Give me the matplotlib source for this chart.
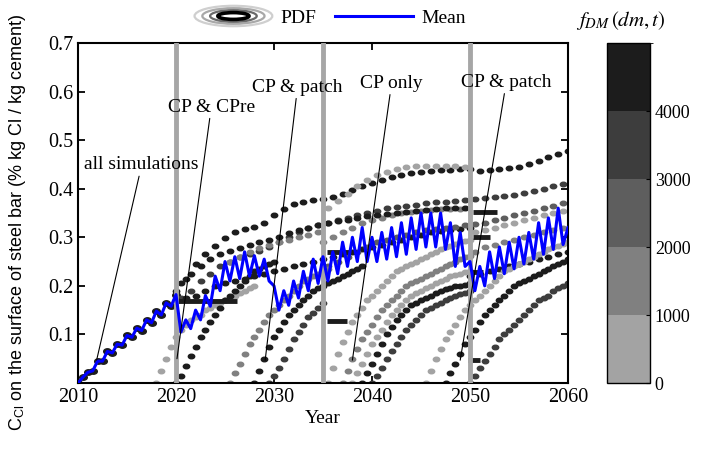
import numpy as np
import matplotlib
matplotlib.use('Agg')
import matplotlib.pyplot as plt
from matplotlib.colors import ListedColormap, BoundaryNorm
from matplotlib.cm import ScalarMappable
from matplotlib.patches import Ellipse, Patch
from matplotlib.legend_handler import HandlerBase
from matplotlib.path import Path
from matplotlib.transforms import Affine2D

plt.rcParams['font.family'] = ['Liberation Serif', 'DejaVu Serif']
plt.rcParams['mathtext.fontset'] = 'stix'

# mean chloride content, every half year from 2010 to 2060
mean_cl = [0.000, 0.012, 0.022, 0.025, 0.045, 0.045, 0.065, 0.062, 0.080, 0.078,
           0.098, 0.094, 0.113, 0.108, 0.130, 0.124, 0.148, 0.140, 0.165, 0.158,
           0.182, 0.105, 0.130, 0.112, 0.150, 0.130, 0.180, 0.158, 0.220, 0.190,
           0.250, 0.210, 0.260, 0.215, 0.270, 0.220, 0.262, 0.220, 0.255, 0.210,
           0.200, 0.150, 0.190, 0.160, 0.210, 0.175, 0.230, 0.190, 0.255, 0.205,
           0.260, 0.210, 0.270, 0.225, 0.290, 0.240, 0.300, 0.250, 0.320, 0.250,
           0.300, 0.250, 0.310, 0.255, 0.320, 0.260, 0.330, 0.265, 0.340, 0.275,
           0.350, 0.280, 0.350, 0.280, 0.350, 0.275, 0.330, 0.240, 0.310, 0.240,
           0.250, 0.190, 0.240, 0.200, 0.270, 0.215, 0.280, 0.225, 0.290, 0.235,
           0.300, 0.245, 0.310, 0.255, 0.330, 0.265, 0.340, 0.275, 0.360, 0.285,
           0.320]

# simulation traces: (start year, step in years, f_DM, values)
c1 = [0.19, 0.215, 0.245, 0.265, 0.283, 0.298, 0.31, 0.317, 0.322, 0.33, 0.345,
      0.358, 0.368, 0.373, 0.376, 0.378, 0.383, 0.39, 0.398, 0.405, 0.412, 0.418,
      0.424, 0.428, 0.432, 0.435, 0.437, 0.438, 0.439, 0.44, 0.44, 0.437, 0.438,
      0.44, 0.442, 0.445, 0.45, 0.457, 0.465, 0.472, 0.478]
c2 = [0.36, 0.375, 0.39, 0.405, 0.418, 0.428, 0.435, 0.44, 0.444, 0.446, 0.447,
      0.447, 0.447, 0.446, 0.445]
c3 = [0.175, 0.19, 0.21, 0.225, 0.24, 0.25, 0.26, 0.265, 0.272, 0.28, 0.29, 0.30,
      0.31, 0.32, 0.325, 0.33, 0.335, 0.34, 0.345, 0.35, 0.355, 0.36, 0.362, 0.365,
      0.367, 0.37, 0.372, 0.373, 0.375, 0.377, 0.378, 0.38, 0.382, 0.385, 0.388,
      0.392, 0.396, 0.40, 0.405, 0.41]
c4 = [0.17, 0.175, 0.18, 0.19, 0.20, 0.205, 0.21, 0.215, 0.22, 0.225, 0.23, 0.235,
      0.24, 0.245, 0.25, 0.255, 0.26, 0.265, 0.27, 0.275, 0.28, 0.285, 0.29, 0.295,
      0.30, 0.305, 0.31, 0.312, 0.315, 0.318, 0.32]
c5 = [0.29, 0.30, 0.31, 0.32, 0.33, 0.335, 0.34, 0.345, 0.35, 0.352, 0.355, 0.357,
      0.358, 0.358, 0.358]
c6 = [0.24, 0.25, 0.26, 0.27, 0.28, 0.29, 0.295, 0.30, 0.305, 0.31, 0.315, 0.318,
      0.32, 0.322, 0.325, 0.327, 0.33, 0.335, 0.34, 0.345, 0.35, 0.355, 0.36, 0.365,
      0.37, 0.375]
c7 = [0.27, 0.28, 0.285, 0.29, 0.295, 0.30, 0.305, 0.31, 0.315, 0.32]
c8 = [0.22, 0.225, 0.23, 0.235, 0.24, 0.245, 0.25, 0.255, 0.26, 0.265, 0.27]
c9 = [0.25, 0.26, 0.27, 0.278, 0.285, 0.29, 0.295, 0.30, 0.305, 0.31]
c10 = [0.205, 0.225, 0.24, 0.255, 0.265, 0.272, 0.278, 0.285, 0.29, 0.295, 0.30,
       0.308, 0.315, 0.32, 0.325, 0.33, 0.333, 0.336, 0.34, 0.343, 0.345, 0.347,
       0.35, 0.352, 0.354, 0.356, 0.358, 0.36, 0.36, 0.36]
c11 = [0.31, 0.315, 0.32, 0.325, 0.33, 0.335, 0.34, 0.345, 0.35, 0.355]

r2a = [0.0, 0.025, 0.05, 0.075, 0.095, 0.11, 0.12, 0.13, 0.135, 0.14, 0.15, 0.155,
       0.16, 0.165, 0.17, 0.175, 0.18, 0.185, 0.19, 0.195, 0.2]
r2b = [0.0, 0.015, 0.035, 0.055, 0.075, 0.095, 0.11, 0.125, 0.14, 0.155, 0.17, 0.18,
       0.19, 0.2, 0.21, 0.22, 0.23, 0.235, 0.24, 0.245, 0.25]
r2c = [0.0, 0.02, 0.04, 0.06, 0.08, 0.095, 0.11, 0.125, 0.14, 0.15, 0.16, 0.17, 0.18,
       0.19, 0.2, 0.21, 0.215, 0.22, 0.225, 0.23, 0.235]
r2d = [0.0, 0.025, 0.05, 0.075, 0.095, 0.11, 0.125, 0.14, 0.15, 0.16, 0.17, 0.18,
       0.19, 0.195, 0.2, 0.205, 0.21, 0.215, 0.22, 0.225, 0.23, 0.235, 0.24]
r2e = [0.0, 0.015, 0.03, 0.05, 0.07, 0.09, 0.105, 0.12, 0.135, 0.145, 0.155, 0.165]

r3a = [0.0, 0.03, 0.06, 0.085, 0.105, 0.125, 0.14, 0.155, 0.17, 0.18, 0.19, 0.2,
       0.21, 0.22, 0.23, 0.235, 0.24, 0.245, 0.25, 0.255, 0.26, 0.265, 0.27, 0.275,
       0.28, 0.283, 0.286, 0.29, 0.293, 0.295]
r3b = [0.0, 0.025, 0.05, 0.07, 0.09, 0.105, 0.12, 0.135, 0.15, 0.16, 0.17, 0.18,
       0.19, 0.2, 0.205, 0.21, 0.215, 0.22, 0.225, 0.23, 0.235, 0.24, 0.245, 0.25,
       0.255, 0.26, 0.262]
r3c = [0.0, 0.02, 0.04, 0.06, 0.08, 0.095, 0.11, 0.125, 0.14, 0.15, 0.16, 0.17,
       0.18, 0.185, 0.19, 0.195, 0.2, 0.205, 0.21, 0.215, 0.22, 0.222, 0.225, 0.228,
       0.23]
r3d = [0.0, 0.02, 0.04, 0.06, 0.08, 0.1, 0.115, 0.13, 0.14, 0.15, 0.16, 0.165, 0.17,
       0.175, 0.18, 0.185, 0.19, 0.193, 0.196, 0.2, 0.2, 0.202, 0.205]
r3e = [0.0, 0.015, 0.03, 0.05, 0.065, 0.08, 0.095, 0.11, 0.12, 0.13, 0.14, 0.15,
       0.155, 0.16, 0.165, 0.17, 0.175, 0.18, 0.183, 0.186, 0.19]

r4a = [0.0, 0.025, 0.05, 0.07, 0.09, 0.105, 0.12, 0.135, 0.15, 0.16, 0.17, 0.18,
       0.19, 0.2, 0.21, 0.22, 0.23, 0.235, 0.24, 0.245, 0.25, 0.255, 0.26, 0.265,
       0.27, 0.275, 0.28, 0.283, 0.286, 0.29]
r4b = [0.0, 0.02, 0.04, 0.06, 0.08, 0.095, 0.11, 0.125, 0.14, 0.15, 0.16, 0.17,
       0.18, 0.19, 0.2, 0.205, 0.21, 0.215, 0.22, 0.225, 0.23, 0.235, 0.24, 0.245,
       0.25, 0.255]
r4c = [0.0, 0.015, 0.03, 0.045, 0.06, 0.075, 0.09, 0.1, 0.11, 0.12, 0.13, 0.14,
       0.15, 0.16, 0.17, 0.175, 0.18, 0.19, 0.195, 0.2, 0.205]

traces = [
    (2020.0, 1.0, 4500, c1), (2035.5, 1.0, 500, c2), (2020.5, 1.0, 3500, c3),
    (2020.0, 1.0, 4500, c4), (2035.0, 1.0, 1500, c5), (2035.5, 1.0, 2500, c6),
    (2050.5, 1.0, 1500, c7), (2050.0, 1.0, 4500, c8), (2025.5, 1.0, 1500, c9),
    (2020.5, 1.0, 4500, c10), (2050.5, 1.0, 500, c11),
    (2018.0, 0.5, 500, r2a), (2020.0, 0.5, 4500, r2b), (2025.5, 0.5, 1500, r2c),
    (2028.0, 0.5, 4500, r2d), (2029.5, 0.5, 3500, r2e),
    (2035.5, 0.5, 500, r3a), (2037.0, 0.5, 1500, r3b), (2038.0, 0.5, 500, r3c),
    (2039.0, 0.5, 4500, r3d), (2040.0, 0.5, 3500, r3e),
    (2045.5, 0.5, 500, r4a), (2047.5, 0.5, 4500, r4b), (2050.0, 0.5, 3500, r4c),
]

# cathodic protection: chloride held constant
cp_level = [0.168, 0.27, 0.127, 0.352, 0.30, 0.228, 0.048]
cp_start = [2020.2, 2035.4, 2035.4, 2050.3, 2050.3, 2050.2, 2049.8]
cp_end = [2026.2, 2038.5, 2037.4, 2052.8, 2052.0, 2051.3, 2051.0]

repair_years = [2020, 2035, 2050]

labels = ['all simulations', 'CP & CPre', 'CP & patch', 'CP only', 'CP & patch']
label_xy = [(2011.9, 0.047), (2020.1, 0.05), (2029.1, 0.047), (2038.0, 0.047), (2049.0, 0.047)]
label_text = [(2016.5, 0.449), (2023.6, 0.568), (2032.4, 0.609), (2042.0, 0.617), (2053.7, 0.619)]

grays = ['#a3a3a3', '#808080', '#5e5e5e', '#3d3d3d', '#1c1c1c']
cmap = ListedColormap(grays)
norm = BoundaryNorm([0, 1000, 2000, 3000, 4000, 5000], cmap.N)

dot = Path.unit_circle().transformed(Affine2D().scale(1.4, 1.0))


class HandlerPDF(HandlerBase):
    def create_artists(self, legend, orig_handle, xdescent, ydescent, width, height, fontsize, trans):
        cx = width / 2 - xdescent
        cy = height / 2 - ydescent
        rings = [(1.0, 1.5, '#cfcfcf', 1.6), (0.8, 1.15, '#a8a8a8', 1.6),
                 (0.6, 0.85, '#6a6a6a', 1.6), (0.4, 0.5, '#000000', 2.6)]
        out = []
        for w, h, c, lw in rings:
            out.append(Ellipse((cx, cy), width * w, height * h, fill=False,
                               edgecolor=c, lw=lw, transform=trans))
        return out


fig = plt.figure(figsize=(7.05, 4.53), dpi=100)
ax = fig.add_axes([78 / 705, 70 / 453, 490 / 705, 340 / 453])

mean_years = 2010 + 0.5 * np.arange(len(mean_cl))

# before 2020 every simulation is the same
ax.plot(mean_years[:21], mean_cl[:21], ls='none', marker=dot, ms=5.5, color='#1c1c1c', zorder=2)

for start, step, f, vals in traces:
    yrs = start + step * np.arange(len(vals))
    ax.plot(yrs, vals, ls='none', marker=dot, ms=4.6, color=cmap(norm(f)), zorder=2)

for lvl, x0, x1 in zip(cp_level, cp_start, cp_end):
    ax.hlines(lvl, x0, x1, color='#1c1c1c', lw=3.5, zorder=2)

for yr in repair_years:
    ax.axvline(yr, color='#a6a6a6', lw=3.5, zorder=3)

mean_line, = ax.plot(mean_years, mean_cl, color='#0000ff', lw=2.2, zorder=5)

for txt, xy, xyt in zip(labels, label_xy, label_text):
    ax.annotate(txt, xy=xy, xytext=xyt, ha='center', va='center', fontsize=14,
                arrowprops=dict(arrowstyle='-', lw=0.8, color='black', shrinkA=0, shrinkB=0),
                zorder=6)

ax.set_xlim(2010, 2060)
ax.set_ylim(0, 0.7)
ax.set_xticks([2010, 2020, 2030, 2040, 2050, 2060])
ax.set_yticks([0.1, 0.2, 0.3, 0.4, 0.5, 0.6, 0.7])
ax.tick_params(direction='in', top=True, right=True, length=5, width=1.3, labelsize=14.5)
for s in ax.spines.values():
    s.set_linewidth(1.5)
ax.set_xlabel('Year', fontsize=14, labelpad=2)
ax.set_ylabel(r'C$_{\mathregular{Cl}}$ on the surface of steel bar (% kg Cl / kg cement)',
              family='Liberation Sans', fontsize=13)
ax.yaxis.set_label_coords(-0.102, 0.472)

pdf_proxy = Patch()
fig.legend([pdf_proxy, mean_line], ['PDF', 'Mean'], loc='center',
           bbox_to_anchor=(330 / 705, 1 - 18 / 453), ncol=2, frameon=False,
           handlelength=4, columnspacing=1.0, handletextpad=0.4, fontsize=14,
           handler_map={Patch: HandlerPDF()})

cax = fig.add_axes([607 / 705, 70 / 453, 43 / 705, 340 / 453])
cb = fig.colorbar(ScalarMappable(norm=norm, cmap=cmap), cax=cax,
                  ticks=[0, 1000, 2000, 3000, 4000])
cb.ax.tick_params(direction='in', length=3, labelsize=13)
cb.outline.set_linewidth(1)
fig.text(621 / 705, 1 - 20 / 453, r'$f_{DM}\,(dm,t)$', ha='center', va='center', fontsize=15)

fig.savefig('out.png', dpi=100)
